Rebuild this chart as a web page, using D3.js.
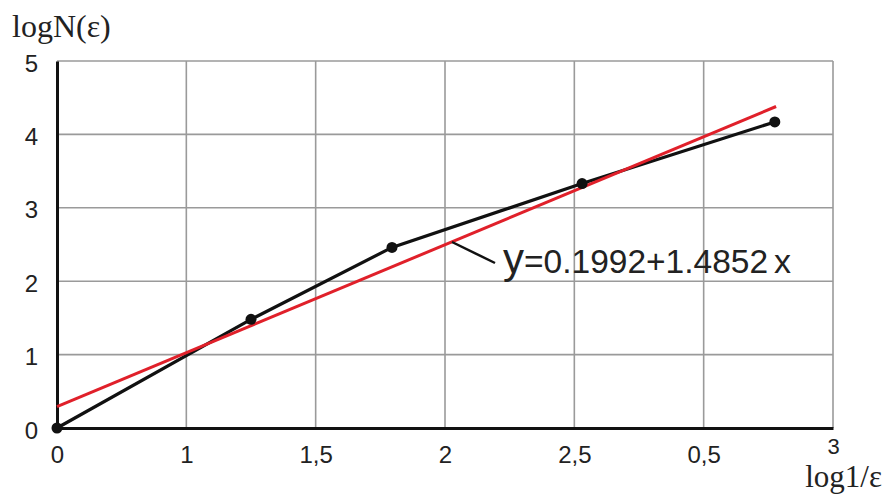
<!DOCTYPE html>
<html><head><meta charset="utf-8">
<script src="https://cdn.jsdelivr.net/npm/d3@7"></script>
<style>body{margin:0;background:#fff}</style>
</head><body>
<script>
const xData = [0, 0.75, 1.295, 2.03, 2.775];
const yData = [0, 1.48, 2.46, 3.33, 4.17];
const fitX = [0, 2.78];
const fitY = [0.29, 4.38];
const xTickValues = [0, 0.5, 1, 1.5, 2, 2.5, 3];
const xTickLabels = ["0", "1", "1,5", "2", "2,5", "0,5", "3"];
const yTickValues = [0, 1, 2, 3, 4, 5];
const yTickLabels = ["0", "1", "2", "3", "4", "5"];
const equation = "y=0.1992+1.4852";

const W = 884, H = 494;
const m = {l: 57, r: 51, t: 61, b: 66};
const svg = d3.select("body").append("svg").attr("width", W).attr("height", H);
const x = d3.scaleLinear().domain([0, 3]).range([m.l, W - m.r]);
const y = d3.scaleLinear().domain([0, 5]).range([H - m.b, m.t]);

// grid
svg.append("g").selectAll("line").data(xTickValues.slice(1)).join("line")
  .attr("x1", d => x(d)).attr("x2", d => x(d)).attr("y1", y(0)).attr("y2", y(5))
  .attr("stroke", "#9a9a9a").attr("stroke-width", 1.6);
svg.append("g").selectAll("line").data(yTickValues.slice(1)).join("line")
  .attr("x1", x(0)).attr("x2", x(3)).attr("y1", d => y(d)).attr("y2", d => y(d))
  .attr("stroke", "#9a9a9a").attr("stroke-width", 1.6);

// axes
const xAxis = d3.axisBottom(x).tickValues(xTickValues).tickSize(0).tickFormat((d, i) => xTickLabels[i]);
const gx = svg.append("g").attr("transform", `translate(0,${y(0)})`).call(xAxis);
gx.select(".domain").attr("stroke", "#111").attr("stroke-width", 3);
gx.selectAll("text").attr("font-family", "Liberation Sans, Arial, sans-serif").attr("font-size", 24)
  .attr("fill", "#222").attr("dy", "0.71em").attr("y", 18);
gx.selectAll(".tick").filter((d, i) => i === 6).select("text").attr("y", 10).attr("font-size", 22);

const yAxis = d3.axisLeft(y).tickValues(yTickValues).tickSize(0).tickFormat((d, i) => yTickLabels[i]);
const gy = svg.append("g").attr("transform", `translate(${x(0)},0)`).call(yAxis);
gy.select(".domain").attr("stroke", "#111").attr("stroke-width", 3);
gy.selectAll("text").attr("font-family", "Liberation Sans, Arial, sans-serif").attr("font-size", 24)
  .attr("fill", "#222").attr("x", -19).attr("dy", "0.42em");

// axis titles
svg.append("text").attr("x", 12).attr("y", 37).text("logN(ε)")
  .attr("font-family", "Liberation Serif, Times New Roman, serif").attr("font-size", 32).attr("fill", "#222");
svg.append("text").attr("x", 882).attr("y", 487).attr("text-anchor", "end").text("log1/ε")
  .attr("font-family", "Liberation Serif, Times New Roman, serif").attr("font-size", 31).attr("fill", "#222");

// data line
const line = d3.line().x(d => x(d[0])).y(d => y(d[1]));
svg.append("path").datum(xData.map((d, i) => [d, yData[i]])).attr("d", line)
  .attr("fill", "none").attr("stroke", "#111").attr("stroke-width", 3.2);
svg.append("path").datum(fitX.map((d, i) => [d, fitY[i]])).attr("d", line)
  .attr("fill", "none").attr("stroke", "#e0202a").attr("stroke-width", 3);
svg.append("g").selectAll("circle").data(xData.map((d, i) => [d, yData[i]])).join("circle")
  .attr("cx", d => x(d[0])).attr("cy", d => y(d[1])).attr("r", 5.5).attr("fill", "#111");

// annotation
svg.append("line").attr("x1", 452).attr("y1", 242).attr("x2", 495).attr("y2", 263)
  .attr("stroke", "#111").attr("stroke-width", 2.5);
const t = svg.append("text").attr("x", 503).attr("y", 273)
  .attr("font-family", "Liberation Sans, Arial, sans-serif").attr("fill", "#222");
t.append("tspan").attr("font-size", 42).text(equation.slice(0, 1));
t.append("tspan").attr("font-size", 33.5).text(equation.slice(1));
t.append("tspan").attr("font-size", 34).attr("dx", 6).text("x");
</script>
</body></html>
